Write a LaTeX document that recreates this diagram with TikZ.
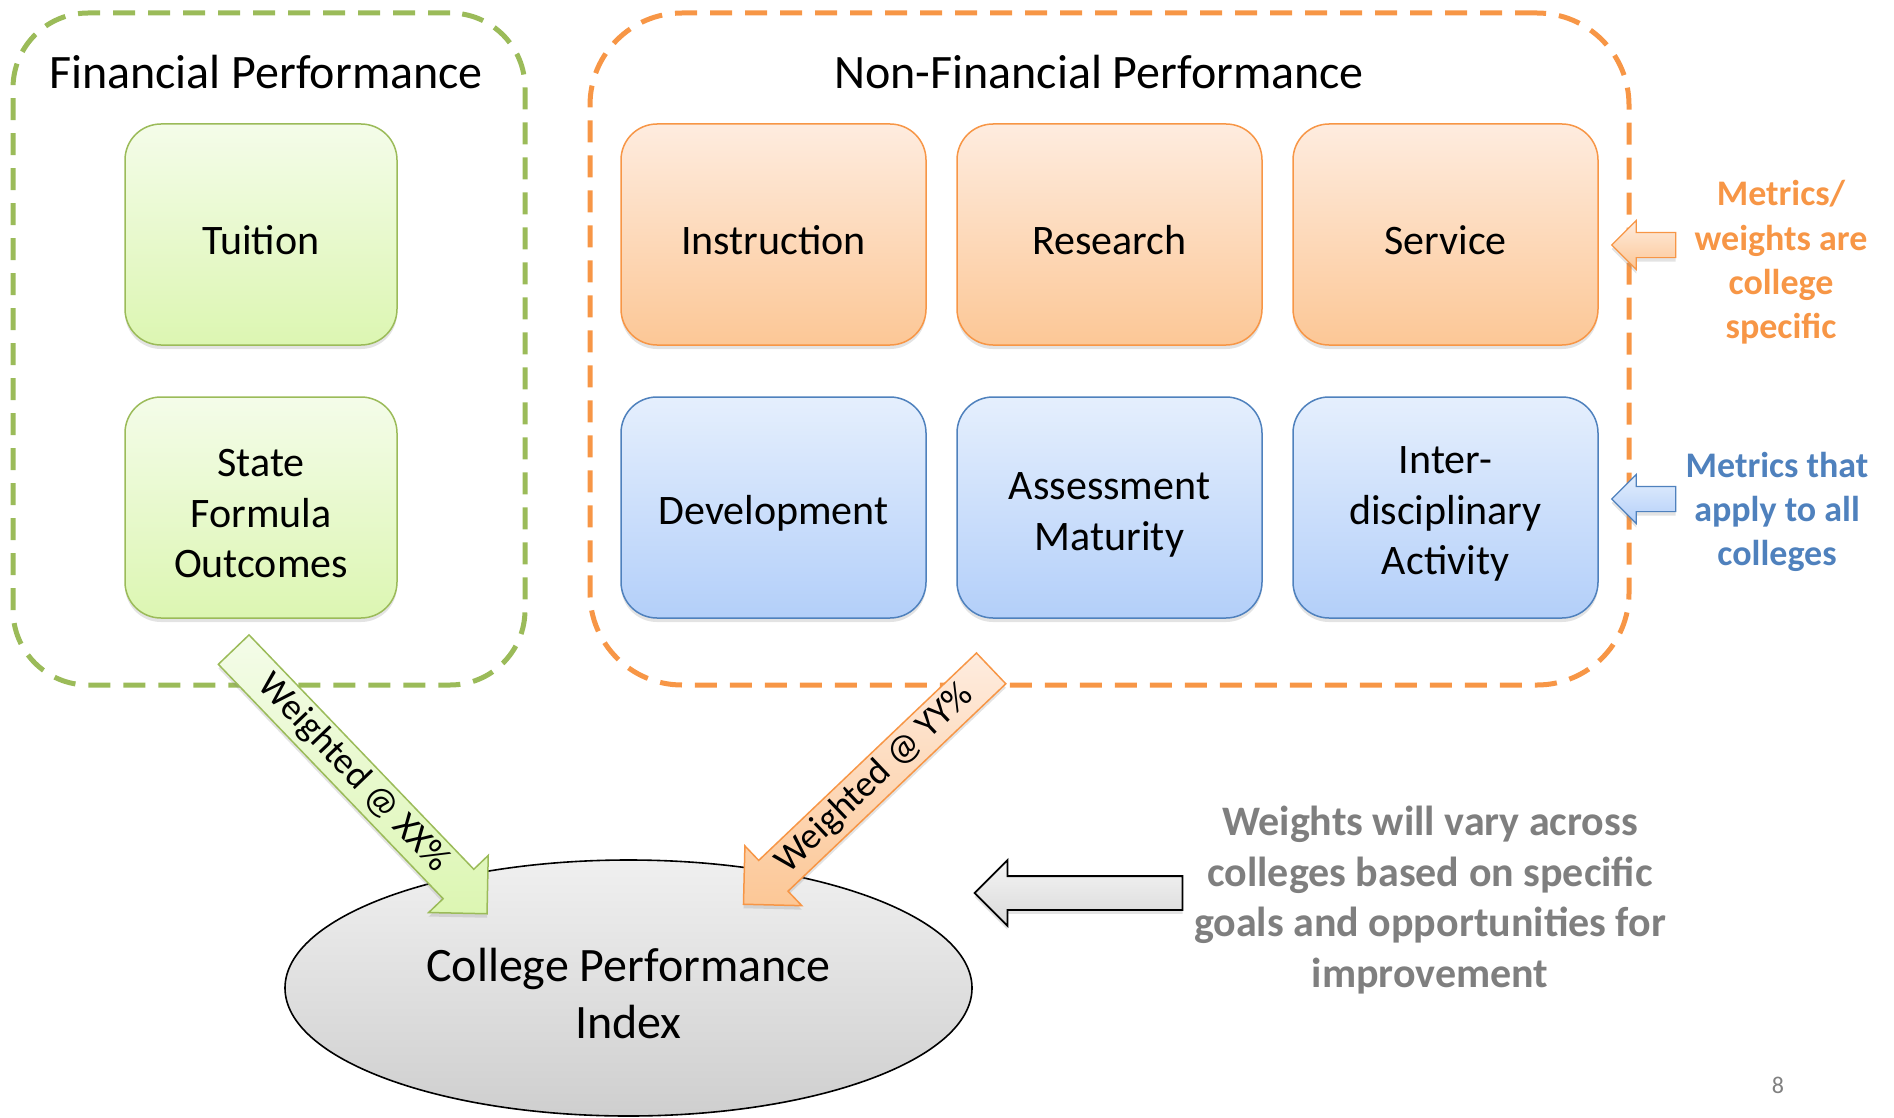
\documentclass[tikz,border=0pt]{standalone}
\usepackage{fontspec}
\setmainfont{Carlito}
\usetikzlibrary{positioning,shapes.arrows,shapes.geometric,shadows}
\definecolor{grline}{HTML}{9BBB59}
\definecolor{grtop}{HTML}{F4FCE9}
\definecolor{grbot}{HTML}{DCF6B2}
\definecolor{orline}{HTML}{F79646}
\definecolor{ortop}{HTML}{FEECDF}
\definecolor{orbot}{HTML}{FCC796}
\definecolor{blline}{HTML}{4F81BD}
\definecolor{bltop}{HTML}{E5EFFD}
\definecolor{blbot}{HTML}{B3CFF9}
\definecolor{notegray}{HTML}{7F7F7F}
\newcommand\boxlift[1][40pt]{\rule{0pt}{#1}}
\begin{document}
\begin{tikzpicture}[x=1pt,y=-1pt,
    every node/.style={inner sep=0pt,outer sep=0pt},
    softshadow/.style={drop shadow={shadow xshift=0pt,shadow yshift=-4pt,opacity=0.22}},
    metric/.style={rounded corners=36pt,minimum width=305pt,minimum height=221pt,line width=1.5pt,
      align=center,font=\fontsize{42}{50.5}\selectfont,softshadow},
    finmetric/.style={metric,minimum width=272pt,draw=grline,top color=grtop,bottom color=grbot},
    ownmetric/.style={metric,draw=orline,top color=ortop,bottom color=orbot},
    allmetric/.style={metric,draw=blline,top color=bltop,bottom color=blbot},
    groupframe/.style={line width=5pt,dash pattern=on 22pt off 13pt,rounded corners=#1,minimum height=672pt},
    heading/.style={font=\fontsize{48}{58}\selectfont},
    fatarrow/.style={single arrow,single arrow tip angle=90,line width=1.5pt,softshadow},
    remark/.style={align=center,font=\bfseries\fontsize{36}{44.3}\selectfont}]
  \useasboundingbox (0,0) rectangle (1894,1118);
  % the two groups
  \node[groupframe=75pt,draw=grline,minimum width=512pt] (fin) at (269,349) {};
  \node[groupframe=92pt,draw=orline,minimum width=1039pt] (nonfin) at (1109.5,349) {};
  \node[heading] (fintitle) at (266,72) {Financial Performance};
  \node[heading] (nonfintitle) at (1099,72) {Non-Financial Performance};
  % metrics
  \node[finmetric] (tuition) at (261,234.5) {\boxlift Tuition};
  \node[finmetric,below=52pt of tuition] (formula) {\boxlift State\\Formula\\Outcomes};
  \node[ownmetric] (instr) at (773.5,234.5) {\boxlift Instruction};
  \node[ownmetric,right=31pt of instr] (research) {\boxlift Research};
  \node[ownmetric,right=31pt of research] (service) {\boxlift Service};
  \node[allmetric,below=52pt of instr] (devel) {\boxlift Development};
  \node[allmetric,below=52pt of research] (assess) {\boxlift[42pt]Assessment\\Maturity};
  \node[allmetric,below=52pt of service] (interdisc) {\boxlift Inter-\\disciplinary\\Activity};
  % index
  \node[ellipse,draw,line width=1.6pt,top color=gray!12,bottom color=gray!38,minimum width=687pt,minimum height=256pt,
    align=center,font=\fontsize{48}{57}\selectfont] (cpi) at (628.5,988) {\boxlift[44pt]College Performance\\Index};
  \node[fatarrow,draw=grline,top color=grtop,bottom color=grbot,rotate=-46.2,minimum height=366pt,
    single arrow head extend=20pt,text height=26pt,text depth=8pt,inner ysep=3.5pt,
    font=\fontsize{37}{44}\selectfont] (wfin) at (353,774) {Weighted @ XX\%};
  \node[fatarrow,draw=orline,top color=ortop,bottom color=orbot,rotate=43.6,shape border rotate=180,minimum height=342pt,
    single arrow head extend=20pt,text height=26pt,text depth=8pt,inner ysep=3.5pt,
    font=\fontsize{37}{44}\selectfont] (wnonfin) at (875,779) {Weighted @ YY\%};
  % side remarks
  \node[fatarrow,draw=orline,top color=ortop,bottom color=orbot,shape border rotate=180,minimum height=64pt,
    inner ysep=12pt,single arrow head extend=12pt,line width=1.2pt] (ownptr) at (1650,245) {};
  \node[fatarrow,draw=blline,top color=bltop,bottom color=blbot,shape border rotate=180,minimum height=64pt,
    inner ysep=12pt,single arrow head extend=12pt,line width=1.2pt] (allptr) at (1650,499) {};
  \node[remark,text=orline] (ownnote) at (1781,262.5) {Metrics/\\weights are\\college\\specific};
  \node[remark,text=blline] (allnote) at (1777,512) {Metrics that\\apply to all\\colleges};
  \node[fatarrow,draw=black,top color=gray!8,bottom color=gray!30,shape border rotate=180,minimum height=208pt,
    inner ysep=16pt,single arrow head extend=16pt,line width=1.8pt] (varyptr) at (1087,893) {};
  \node[remark,text=notegray,font=\bfseries\fontsize{42}{50.5}\selectfont] (varynote) at (1430,900)
    {Weights will vary across\\colleges based on specific\\goals and opportunities for\\improvement};
  \node[font=\fontsize{24}{28}\selectfont,text=gray] (pagenum) at (1778,1085) {8};
\end{tikzpicture}
\end{document}
